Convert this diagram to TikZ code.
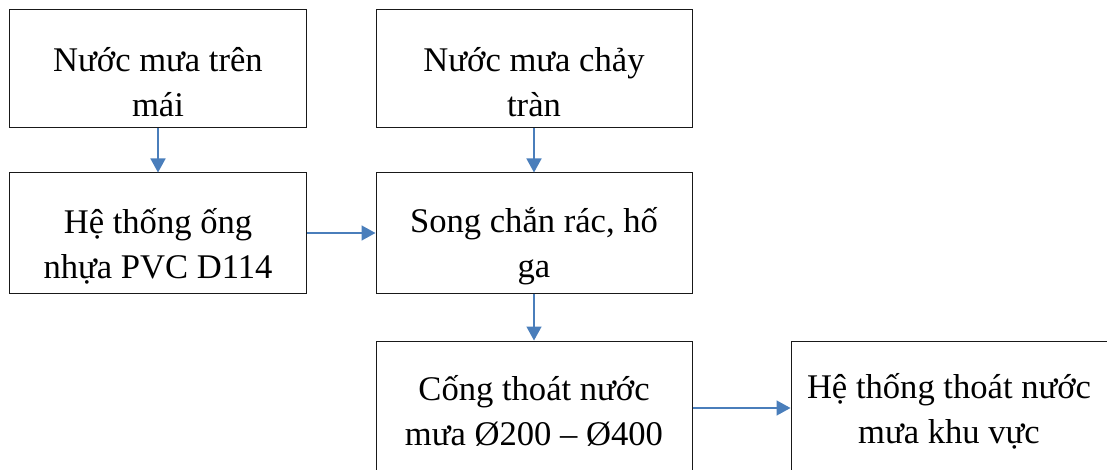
\documentclass[tikz,border=0pt]{standalone}
\usepackage{fontspec}
\setmainfont{Liberation Serif}
\usetikzlibrary{arrows.meta}
\definecolor{arrowblue}{HTML}{4A7EBB}
\begin{document}
\begin{tikzpicture}[x=1pt,y=-1pt,
  box/.style={draw=black!90, line width=1pt, rectangle, inner sep=0pt},
  boxtext/.style={font=\fontsize{34.6}{45}\selectfont, align=center, inner sep=0pt},
  arr/.style={draw=arrowblue, line width=1.5pt, -{Triangle[width=15pt,length=14pt]}}]
\useasboundingbox (0,0) rectangle (1107,470);
\node[box, minimum width=296.5pt, minimum height=118pt] (A) at (158,69) {};
\node[box, minimum width=316pt, minimum height=118pt] (B) at (534,69) {};
\node[box, minimum width=296.5pt, minimum height=120pt] (C) at (158,233) {};
\node[box, minimum width=316pt, minimum height=120pt] (D) at (534,233) {};
\node[box, minimum width=316pt, minimum height=134pt] (E) at (534,408) {};
\node[box, minimum width=317pt, minimum height=134pt] (F) at (949.5,408) {};
\node[boxtext] (tA) at (158,82) {Nước mưa trên\\mái};
\node[boxtext] (tB) at (534,82) {Nước mưa chảy\\tràn};
\node[boxtext] (tC) at (158,246) {Hệ thống ống\\nhựa PVC D114};
\node[boxtext] (tD) at (534,246) {Song chắn rác, hố\\ga};
\node[boxtext] (tE) at (534,411) {Cống thoát nước\\mưa Ø200 – Ø400};
\node[boxtext] (tF) at (949,411) {Hệ thống thoát nước\\mưa khu vực};
\draw[arr] (A.south) -- (C.north);
\draw[arr] (B.south) -- (D.north);
\draw[arr] (C.east) -- (D.west);
\draw[arr] (D.south) -- (E.north);
\draw[arr] (E.east) -- (F.west);
\end{tikzpicture}
\end{document}
